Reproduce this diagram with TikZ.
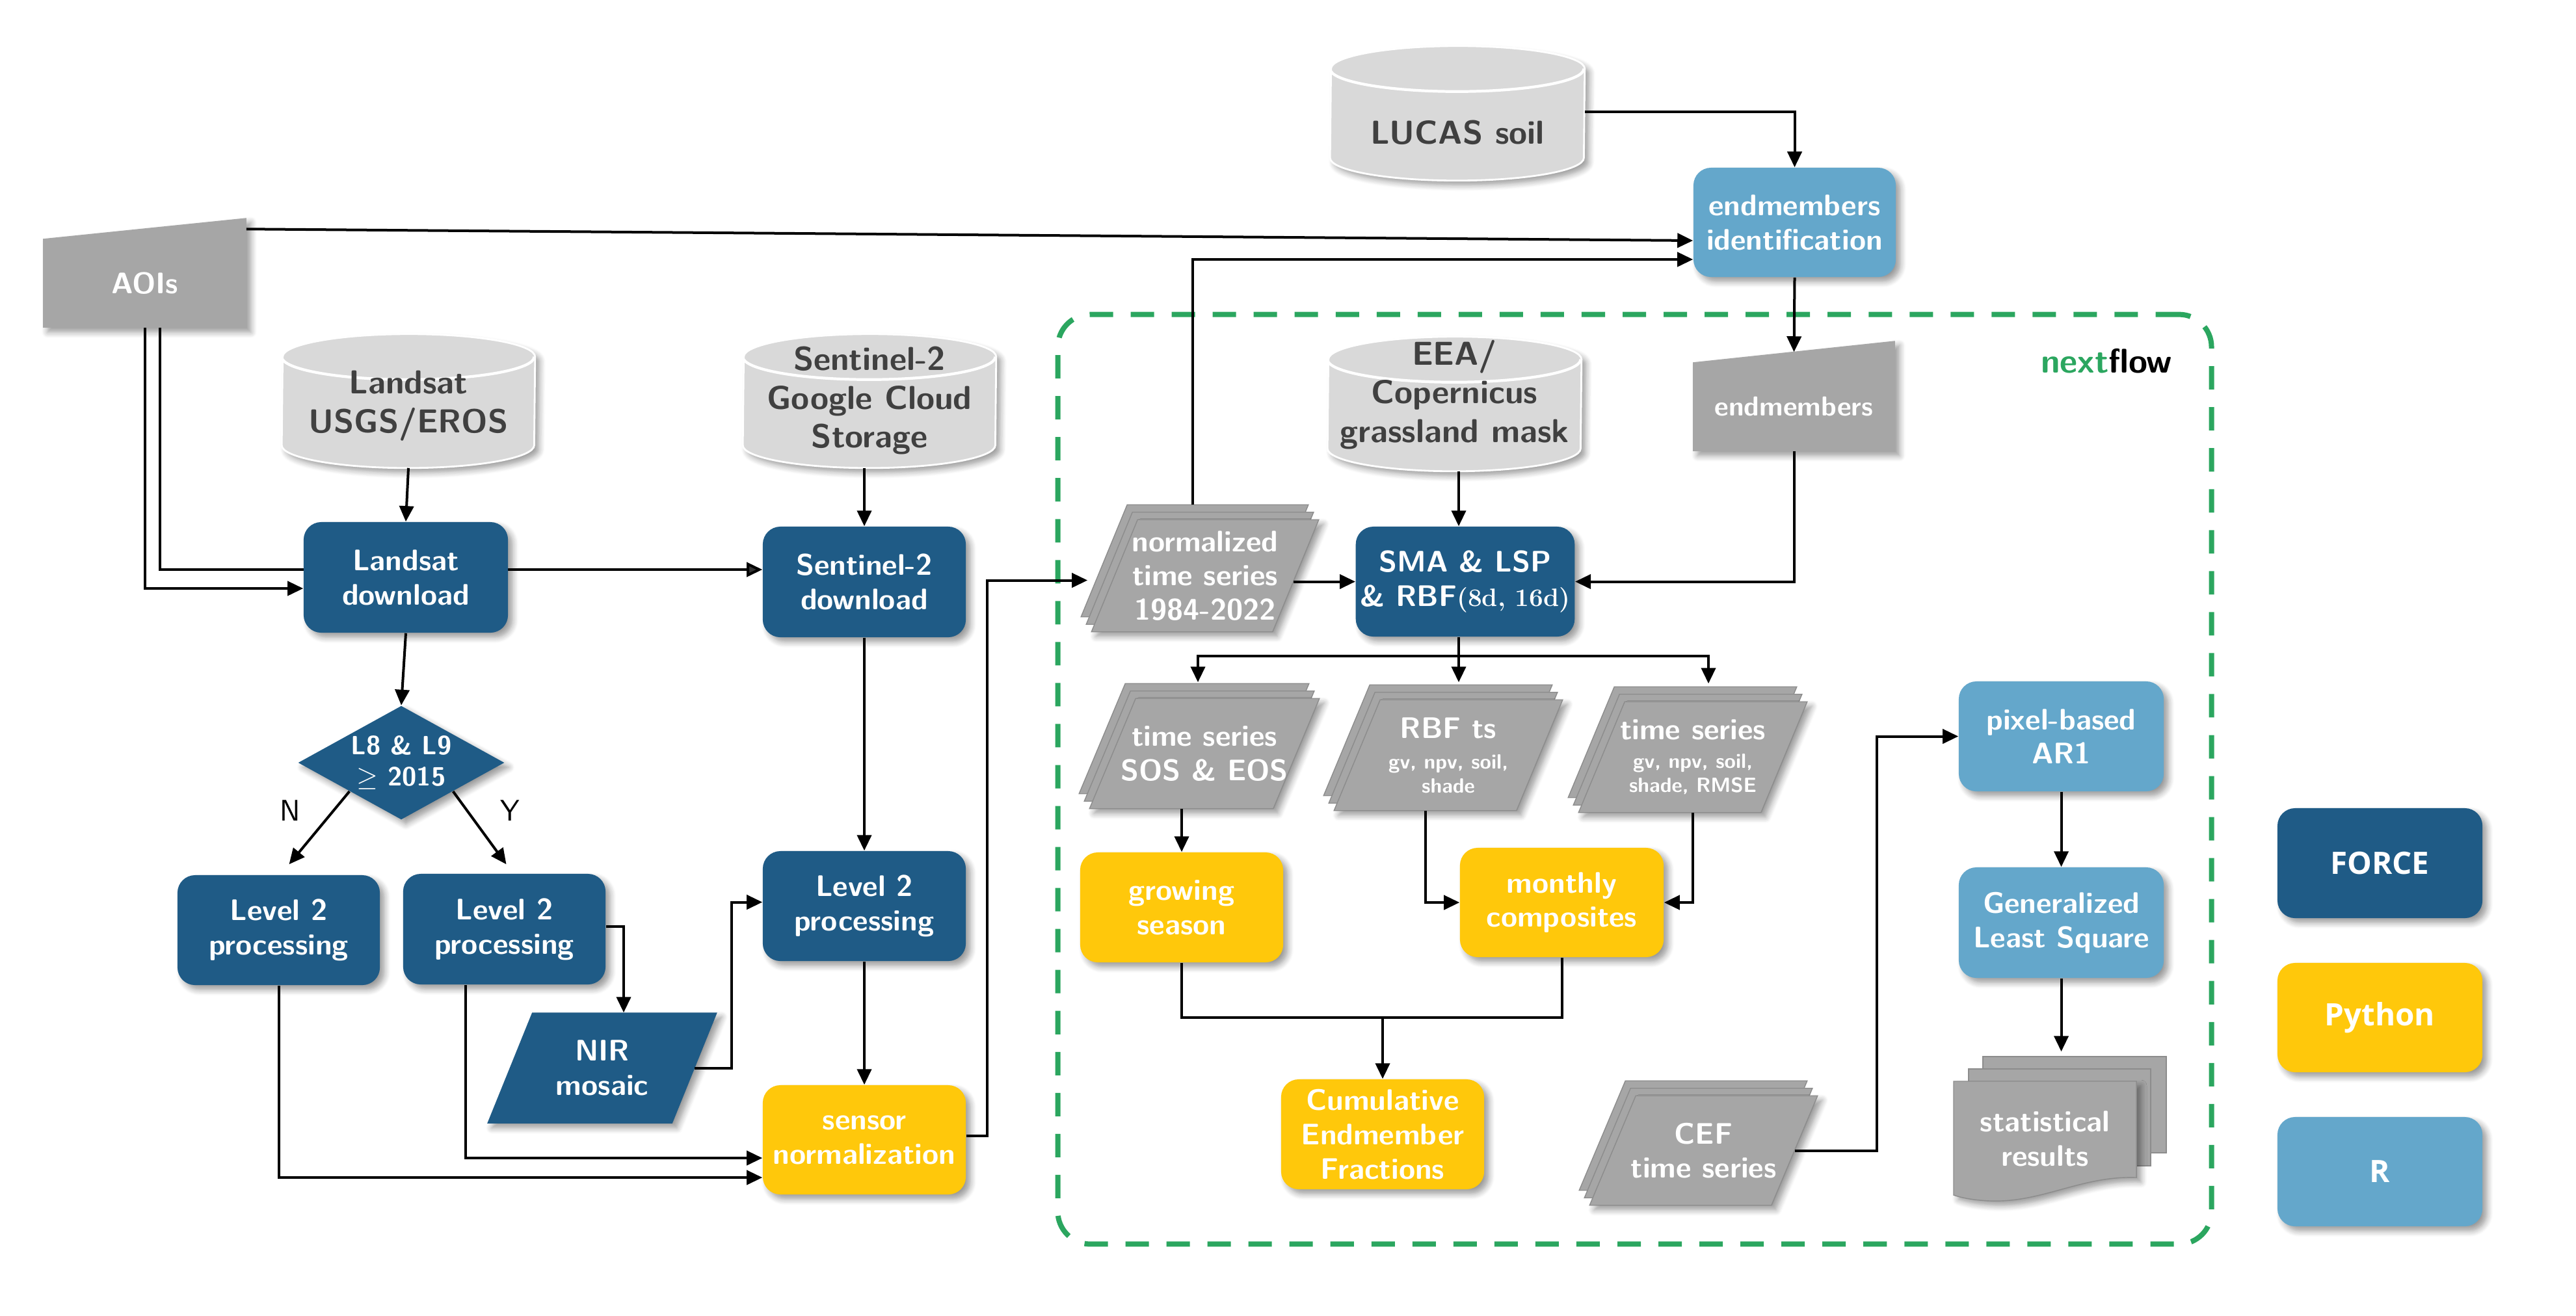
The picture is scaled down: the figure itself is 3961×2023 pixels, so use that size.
\documentclass[tikz,border=0pt]{standalone}
\usepackage{fontspec}
\newfontfamily\legendfont{Open Sans}
\usetikzlibrary{arrows.meta,calc,shadows.blur,shapes.geometric,backgrounds}
\definecolor{fblue}{HTML}{1F5B86}
\definecolor{pyyel}{HTML}{FFC80B}
\definecolor{rblue}{HTML}{64A7CB}
\definecolor{tsgray}{HTML}{A6A6A6}
\definecolor{tsedge}{HTML}{8C8C8C}
\definecolor{dbgray}{HTML}{D9D9D9}
\definecolor{dbtext}{HTML}{404040}
\definecolor{nfgreen}{HTML}{2BA65F}
\newcommand\mainf{\sffamily\bfseries\fontsize{13}{15}\selectfont}
\newcommand\tinyf{\fontsize{9}{11}\selectfont}
\newcommand\dbfont{\sffamily\bfseries\fontsize{14.5}{17}\selectfont}
\tikzset{
 shad/.style={blur shadow={shadow xshift=0.07cm, shadow yshift=-0.07cm, shadow blur radius=0.09cm, shadow blur steps=6, shadow opacity=40}},
 box/.style={rectangle, rounded corners=0.27cm, text=white, font=\mainf, align=center, inner sep=2pt, shad},
 forcebox/.style={box, fill=fblue},
 pybox/.style={box, fill=pyyel},
 rbox/.style={box, fill=rblue},
 plain/.style={rectangle, align=center, text=white, font=\mainf, inner sep=1pt},
 dbnode/.style={rectangle, align=center, text=dbtext, font=\dbfont, inner sep=1pt},
 arr/.style={line width=0.04cm, -{Triangle[length=0.24cm,width=0.22cm]}},
 ln/.style={line width=0.04cm},
 tsshape/.style={fill=tsgray, draw=tsedge, line width=0.4pt},
 sz/.style 2 args={minimum width=#1cm, minimum height=#2cm},
 lgfont/.style={font=\legendfont\bfseries\fontsize{13.5}{16}\selectfont},
}
% cylinder drawn round a node: node, cylinder height (px), x radius
\newcommand\dbcyl[3]{%
 \path[fill=dbgray, draw=white, line width=0.8pt, shad] ($(#1.south west)+(0,-35)$) arc[start angle=180,end angle=360,x radius=#3,y radius=0.35cm] -- ($(#1.south east)+(0,{35-#2})$) arc[start angle=0,end angle=180,x radius=#3,y radius=0.35cm] -- cycle;
 \draw[white, line width=1.2pt] ($(#1.south west)+(0,{35-#2})$) arc[start angle=180,end angle=360,x radius=#3,y radius=0.35cm];}
% parallelogram round a node: style, node, slant, dx, dy
\newcommand\pgram[5]{%
 \path[#1] ($(#2.south west)+({#4},{#5})$) -- ($(#2.south east)+({#4-(#3)},{#5})$) -- ($(#2.north east)+({#4},{#5})$) -- ($(#2.north west)+({#4+#3},{#5})$) -- cycle;}
\newcommand\pstack[2]{%
 \pgram{tsshape}{#1}{#2}{-16}{-23}%
 \pgram{tsshape}{#1}{#2}{-8}{-11.5}%
 \pgram{tsshape,shad}{#1}{#2}{0}{0}}
\begin{document}
\begin{tikzpicture}[x=0.01cm,y=-0.01cm]
\useasboundingbox (0,0) rectangle (3961,2023);

% databases
\node[dbnode, sz={3.88}{1.90}] (landsatdb) at (628,624) {Landsat\\USGS/EROS};
\node[dbnode, sz={3.88}{2.06}] (s2db) at (1337,616) {Sentinel-2\\Google Cloud\\Storage};
\node[dbnode, sz={3.90}{1.46}] (lucas) at (2241,204) {LUCAS soil};
\node[dbnode, sz={3.89}{2.34}] (eea) at (2236.5,607) {EEA/\\Copernicus\\grassland mask};

% manual inputs
\node[plain, sz={3.11}{1.35}] (aoi) at (222.5,435.5) {AOIs};
\node[plain, sz={3.09}{1.35}, font=\sffamily\bfseries\fontsize{12}{14}\selectfont] (endm) at (2758.5,625.5) {endmembers};

% FORCE part
\node[forcebox, sz={3.14}{1.70}] (ldl) at (624,888) {Landsat\\download};
\node[forcebox, sz={3.12}{1.70}] (s2dl) at (1329,895) {Sentinel-2\\download};
\node[diamond, fill=fblue, text=white, shad, aspect=1.81, inner sep=0pt, minimum width=3.17cm, minimum height=1.75cm, align=center, font=\sffamily\bfseries\fontsize{11.5}{13.5}\selectfont] (diam) at (617,1173) {L8 \& L9\\$\geq$ 2015};
\node[font=\sffamily\fontsize{13}{15}\selectfont] (nlab) at (446,1247) {N};
\node[font=\sffamily\fontsize{13}{15}\selectfont] (ylab) at (784,1247) {Y};
\node[forcebox, sz={3.11}{1.69}] (l2n) at (428.5,1430.5) {Level 2\\processing};
\node[forcebox, sz={3.11}{1.70}] (l2y) at (775.5,1429) {Level 2\\processing};
\node[forcebox, sz={3.12}{1.69}] (l2s2) at (1329,1393.5) {Level 2\\processing};
\node[plain, sz={3.52}{1.69}] (nir) at (926,1642.5) {NIR\\mosaic};
\node[pybox, sz={3.12}{1.68}] (sens) at (1329,1753) {sensor\\normalization};

% nextflow part
\node[draw=nfgreen, line width=0.08cm, dash pattern=on 0.36cm off 0.27cm, rounded corners=0.5cm, minimum width=17.73cm, minimum height=14.29cm, inner sep=0pt] (nfbox) at (2513.5,1198.5) {};
\node[font=\sffamily\bfseries\fontsize{15}{18}\selectfont, inner sep=0pt] (nflabel) at (3239,555) {\textcolor{nfgreen}{next}flow};

\node[plain, sz={3.48}{1.71}] (normts) at (1853,885.5) {normalized\\time series\\1984-2022};
\node[rbox, sz={3.11}{1.68}] (emid) at (2759.5,342) {endmembers\\identification};
\node[forcebox, sz={3.30}{1.69}] (sma) at (2253,894.5) {SMA \& LSP\\\& RBF{\rmfamily\bfseries\fontsize{11}{13}\selectfont(8d, 16d)}};
\node[plain, sz={3.52}{1.68}] (sos) at (1852,1159) {time series\\SOS \& EOS};
\node[plain, sz={3.50}{1.69}] (rbfts) at (2227,1161.5) {RBF ts\\[-1.6pt]{\tinyf gv, npv, soil,}\\[-4.5pt]{\tinyf shade}};
\node[plain, sz={3.50}{1.69}] (tsgv) at (2603,1164.5) {time series\\[-2.5pt]{\tinyf gv, npv, soil,}\\[-4.5pt]{\tinyf shade, RMSE}};
\node[pybox, sz={3.12}{1.69}] (grow) at (1817,1395.5) {growing\\season};
\node[pybox, sz={3.13}{1.68}] (month) at (2401.5,1388) {monthly\\composites};
\node[pybox, sz={3.12}{1.69}] (cef) at (2126,1744.5) {Cumulative\\Endmember\\Fractions};
\node[plain, sz={3.49}{1.67}] (ceft) at (2619.5,1769.5) {CEF\\time series};
\node[rbox, sz={3.15}{1.69}] (ar1) at (3169.5,1132.5) {pixel-based\\AR1};
\node[rbox, sz={3.15}{1.70}] (gls) at (3169.5,1419) {Generalized\\Least Square};
\node[plain, sz={2.81}{1.77}] (stat) at (3144.5,1751.5) {statistical\\results};

% legend
\node[forcebox, sz={3.15}{1.69}, lgfont] (lgforce) at (3659.5,1327.5) {FORCE};
\node[pybox, sz={3.15}{1.68}, lgfont] (lgpy) at (3659.5,1565) {Python};
\node[rbox, sz={3.15}{1.68}, lgfont] (lgr) at (3659.5,1802) {R};

% shapes behind the texts
\begin{scope}[on background layer]
 \dbcyl{landsatdb}{206}{1.94cm}
 \dbcyl{s2db}{206}{1.94cm}
 \dbcyl{lucas}{207}{1.95cm}
 \dbcyl{eea}{207}{1.945cm}
 \path[fill=tsgray, shad] (aoi.south west) -- (aoi.south east) -- ($(aoi.north east)+(0,-32)$) -- (aoi.north west) -- cycle;
 \path[fill=tsgray, shad] (endm.south west) -- (endm.south east) -- ($(endm.north east)+(0,-33)$) -- (endm.north west) -- cycle;
 \pstack{normts}{71}
 \pstack{sos}{71}
 \pstack{rbfts}{71}
 \pstack{tsgv}{71}
 \pstack{ceft}{71}
 \pgram{fill=fblue, shad}{nir}{69}{0}{0}
 \path[tsshape] (3049,1625) rectangle (3331,1773);
 \path[tsshape] (3027,1644) rectangle (3307,1793);
 \path[tsshape, shad] (3004,1663) -- (3285,1663) -- (3285,1811) .. controls (3200,1808) and (3140,1850) .. (3060,1847) .. controls (3035,1846) and (3015,1842) .. (3004,1838) -- cycle;
 \draw[arr] ($(aoi.south)+(23,0)$) |- ($(s2dl.west)+(0,-19)$);
\end{scope}

% connectors
\draw[arr] (landsatdb.south) -- (ldl.north);
\draw[arr] (s2db.south -| s2dl.north) -- (s2dl.north);
\draw[arr] (aoi.south) |- ($(ldl.west)+(0,17)$);
\draw[arr] ($(aoi.north east)+(0,-15)$) -- ($(emid.west)+(0,28)$);
\draw[arr] (ldl.south) -- (diam.north);
\draw[arr] (diam.south west) -- ($(l2n.north)+(16,-16)$);
\draw[arr] (diam.south east) -- ($(l2y.north)+(3,-14)$);
\draw[arr] ($(l2y.east)+(0,-4)$) -| ($(nir.north)+(33,0)$);
\draw[arr] ($(nir.east)+(-35,0)$) -- ++(57,0) |- ($(l2s2.west)+(0,-6)$);
\draw[arr] (s2dl.south) -- (l2s2.north);
\draw[arr] (l2s2.south) -- (sens.north);
\draw[arr] ($(l2y.south)+(-60,0)$) |- ($(sens.west)+(0,28)$);
\draw[arr] (l2n.south) |- ($(sens.west)+(0,58)$);
\draw[arr] ($(sens.east)+(0,-6)$) -- ++(32,0) |- ($(normts.west)+(-6,7)$);

\coordinate (nsma) at ($(sma.west -| normts.east)+(-39,0)$);
\draw[arr] (nsma) -- (sma.west);
\draw[arr] ($(normts.north)+(-19,-23)$) |- ($(emid.west)+(0,57)$);
\draw[arr] ($(lucas.east)+(0,-32)$) -| (emid.north);
\draw[arr] (emid.south) -- ($(endm.north)+(0,-16)$);
\draw[arr] (endm.south) |- (sma.east);
\coordinate (smatop) at ($(sma.north)+(-10,0)$);
\draw[arr] (smatop |- eea.south) -- (smatop);
\coordinate (split) at ($(sma.south)+(-10,29)$);
\draw[ln] ($(sma.south)+(-10,0)$) -- (split);
\draw[arr] (split) -| ($(sos.north)+(-10,-25)$);
\draw[arr] (split) -- ($(split |- rbfts.north)+(0,-27)$);
\draw[arr] (split) -| ($(tsgv.north)+(24,-28)$);
\draw[arr] (sos.south -| grow.north) -- (grow.north);
\draw[arr] ($(rbfts.south)+(-35,0)$) |- (month.west);
\draw[arr] (tsgv.south) |- (month.east);
\coordinate (join) at ($(cef.north)+(0,-94)$);
\draw[ln] (grow.south) |- (join) -| (month.south);
\draw[arr] (join) -- (cef.north);
\draw[arr] ($(ceft.east)+(-35,0)$) -- ++(126,0) |- (ar1.west);
\draw[arr] (ar1.south) -- (gls.north);
\draw[arr] (gls.south) -- ($(gls.south |- stat.north)+(0,-45)$);
\end{tikzpicture}
\end{document}
